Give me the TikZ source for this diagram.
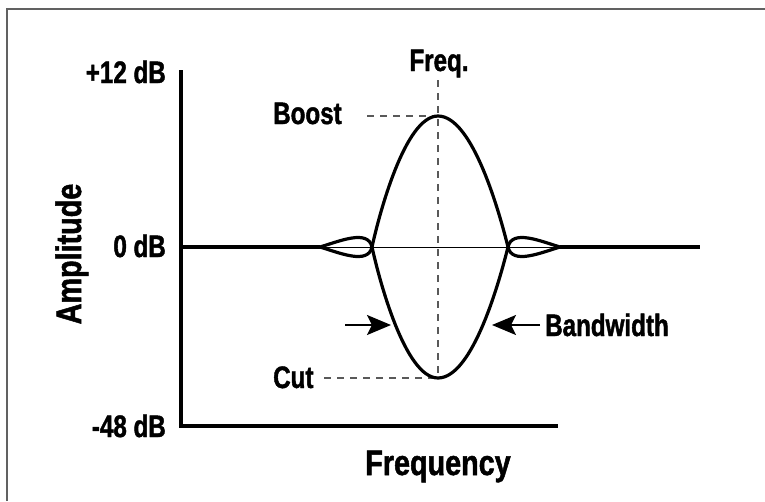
\documentclass[tikz,border=0pt]{standalone}
\usepackage{fontspec}
\setmainfont{Liberation Sans}[FakeStretch=0.78, BoldFeatures={FakeBold=1.4}]
\newfontfamily\bigfont{Liberation Sans}[FakeStretch=0.81, BoldFeatures={FakeBold=1.4}]
\usetikzlibrary{arrows.meta}
\begin{document}
\begin{tikzpicture}[x=1pt,y=-1pt,
 lbl/.style={font=\fontsize{31}{31}\selectfont\bfseries, inner sep=0pt},
 big/.style={font=\bigfont\fontsize{35.5}{35.5}\selectfont\bfseries, inner sep=0pt},
 axis/.style={line width=3.3pt, line join=miter},
 curve/.style={line width=3.2pt, line join=round},
 guide/.style={color=black!65, line width=1.5pt, dash pattern=on 7pt off 6pt},
 bw/.style={line width=2pt, -{Stealth[length=24pt,width=20pt,inset=5pt]}}]
\useasboundingbox (0,0) rectangle (765,501);
\draw[color=black!62, line width=2pt] (7,501) -- (7,8.5) -- (765,8.5);
% coordinates
\coordinate (top) at (181,70);
\coordinate (origin) at (181,426);
\coordinate (xend) at (558,426);
\coordinate (z0) at (181,247);
\coordinate (zl) at (320,247);
\coordinate (zr) at (560,247);
\coordinate (z1) at (700,247);
\coordinate (cl) at (372,247);
\coordinate (cr) at (508,247);
\coordinate (peak) at (438,116);
\coordinate (trough) at (438,378);
\coordinate (fq) at (438,80);
\coordinate (bd) at (367,116);
\coordinate (cd) at (324,378);
\coordinate (al) at (345,325);
\coordinate (at) at (391,325);
\coordinate (ar) at (540,325);
\coordinate (art) at (492,325);
% guides
\draw[guide] (fq) -- (trough);
\draw[guide] (bd) -- (peak);
\draw[guide] (cd) -- (trough);
% axes
\draw[axis] (top) -- (origin) -- (xend);
\draw[line width=4pt] (z0) -- (zl);
\draw[line width=1pt] (zl) -- (zr);
\draw[line width=4pt] (zr) -- (z1);
% curves
\draw[curve] (zl) .. controls (340,253) and (368,265) .. (cl)
  .. controls (379,215) and (405,116) .. (peak)
  .. controls (473,116) and (500,215) .. (cr)
  .. controls (512,265) and (540,253) .. (zr);
\draw[curve] (zl) .. controls (340,241) and (368,229) .. (cl)
  .. controls (379,279) and (405,378) .. (trough)
  .. controls (473,378) and (500,279) .. (cr)
  .. controls (512,229) and (540,241) .. (zr);
% arrows
\draw[bw] (al) -- (at);
\draw[bw] (ar) -- (art);
% labels
\node[lbl, anchor=base] (freq) at (439,71) {Freq.};
\node[lbl, anchor=base west] (boost) at (273,124) {Boost};
\node[lbl, anchor=base west] (cut) at (273,388) {Cut};
\node[lbl, anchor=base east] (p12) at (166,83) {+12 dB};
\node[lbl, anchor=base east] (zdb) at (166,257) {0 dB};
\node[lbl, anchor=base east] (m48) at (166,437) {-48 dB};
\node[lbl, anchor=base west] (bwl) at (545,336) {Bandwidth};
\node[big, anchor=base] (xlab) at (438,475) {Frequency};
\node[big, anchor=base, rotate=90] (ylab) at (81,254) {Amplitude};
\end{tikzpicture}
\end{document}
